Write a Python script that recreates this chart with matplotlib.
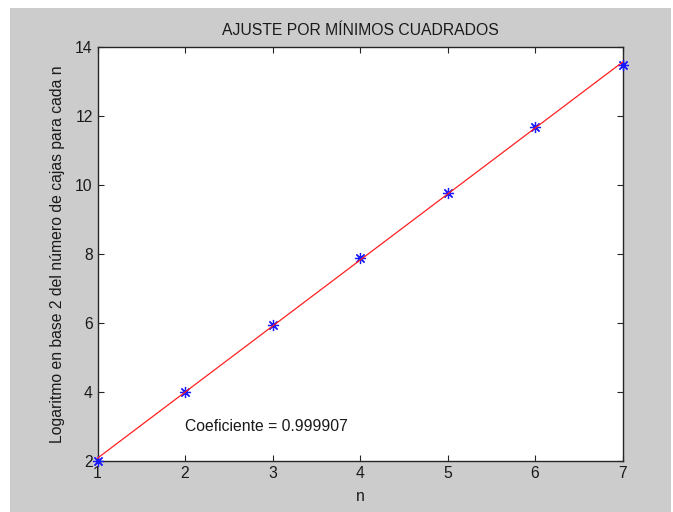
import numpy as np
import matplotlib
matplotlib.use("Agg")
import matplotlib.pyplot as plt
from matplotlib.patches import Rectangle

# Data
n_values = [1, 2, 3, 4, 5, 6, 7]
log2_boxes = [2.00, 4.00, 5.93, 7.89, 9.76, 11.69, 13.48]
coef_text = "Coeficiente = 0.999907"
title_text = "AJUSTE POR MÍNIMOS CUADRADOS"
xlabel_text = "n"
ylabel_text = "Logaritmo en base 2 del número de cajas para cada n"
x_ticks = [1, 2, 3, 4, 5, 6, 7]
y_ticks = [2, 4, 6, 8, 10, 12, 14]

plt.rcParams['font.family'] = ['Liberation Sans', 'DejaVu Sans']

W, H = 673, 512
fig = plt.figure(figsize=(W / 100, H / 100), dpi=100, facecolor='white')
fig.patches.append(Rectangle((10 / W, 0), (671 - 10) / W, (512 - 8) / H,
                             transform=fig.transFigure, facecolor='#cccccc',
                             edgecolor='none', zorder=-10))

ax = fig.add_axes([97.5 / W, 1 - 460.7 / H, (622.5 - 97.5) / W, (460.7 - 47.3) / H])
ax.set_facecolor('white')

x = np.array(n_values, dtype=float)
y = np.array(log2_boxes, dtype=float)
p = np.polyfit(x, y, 1)

ax.plot(x, y, linestyle='none', marker=(8, 2, 0), color='#1a1aff',
        markersize=8, markeredgewidth=0.9, clip_on=False, zorder=3)
ax.plot(x, np.polyval(p, x), color='#ff2020', linewidth=0.9, zorder=4, clip_on=False)

ax.set_xlim(1, 7)
ax.set_ylim(2, 14)
ax.set_xticks(x_ticks)
ax.set_yticks(y_ticks)
ax.tick_params(direction='in', length=4.5, width=0.8, top=True, right=True,
               labelsize=11.3, pad=3.5, color='#262626', labelcolor='#1a1a1a')
for s in ax.spines.values():
    s.set_linewidth(1.0)
    s.set_color('#262626')

ax.set_title(title_text, fontsize=11.3, pad=8.5, color='#1a1a1a')
ax.set_xlabel(xlabel_text, fontsize=11.3, labelpad=6, color='#1a1a1a')
ax.set_ylabel(ylabel_text, fontsize=11.3, labelpad=7.5, color='#1a1a1a')

ax.text(2, 3.0, coef_text, fontsize=11.3, ha='left', va='center', color='#1a1a1a')

fig.savefig('out.png', dpi=100, facecolor='white')
